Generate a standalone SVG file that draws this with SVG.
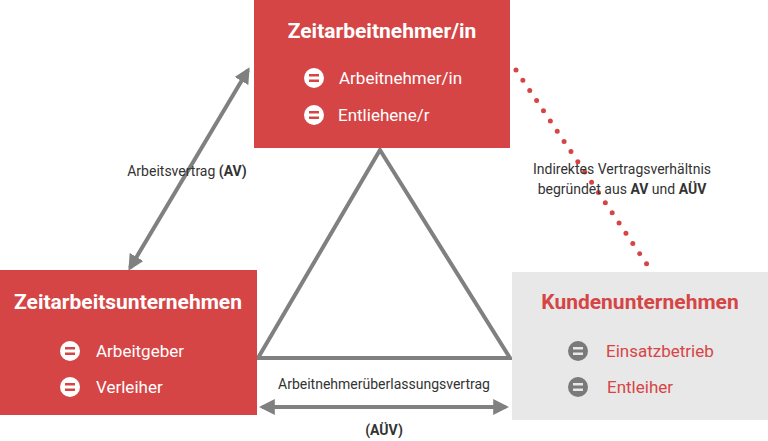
<svg xmlns="http://www.w3.org/2000/svg" width="768" height="441" viewBox="0 0 768 441">
<style>
text{font-family:Roboto,"Liberation Sans",sans-serif}
.t{font-size:21px;font-weight:bold;text-anchor:middle}
.i{font-size:17px}
.l{font-size:14px;fill:#333;text-anchor:middle}
.c{stroke:#808080;stroke-width:4;fill:none}
</style>
<defs>
<marker id="a" viewBox="0 0 10 10" refX="8" refY="5" markerWidth="4" markerHeight="4" orient="auto-start-reverse"><path d="M0,0L10,5L0,10z" fill="#808080"/></marker>
<g id="eqw"><circle r="10" fill="#fff"/><rect x="-5" y="-4" width="10" height="2.5" fill="#d64545"/><rect x="-5" y="1.5" width="10" height="2.5" fill="#d64545"/></g>
<g id="eqg"><circle r="10" fill="#7a7a7a"/><rect x="-5" y="-4" width="10" height="2.5" fill="#e8e8e8"/><rect x="-5" y="1.5" width="10" height="2.5" fill="#e8e8e8"/></g>
</defs>
<g id="connectors">
<path class="c" d="M380,150L258,358H510Z" stroke-linejoin="miter"/>
<line class="c" x1="248" y1="70" x2="130" y2="268" marker-start="url(#a)" marker-end="url(#a)"/>
<line class="c" x1="262" y1="407" x2="506" y2="407" marker-start="url(#a)" marker-end="url(#a)"/>
<line x1="516" y1="70" x2="648" y2="266" stroke="#d64545" stroke-width="5" stroke-linecap="round" stroke-dasharray="0 12.3"/>
<text class="l" x="187" y="176">Arbeitsvertrag <tspan font-weight="bold">(AV)</tspan></text>
<text class="l" x="622" y="174">Indirektes Vertragsverhältnis</text>
<text class="l" x="622" y="194">begründet aus <tspan font-weight="bold">AV</tspan> und <tspan font-weight="bold">AÜV</tspan></text>
<text class="l" x="384" y="389">Arbeitnehmerüberlassungsvertrag</text>
<text class="l" x="384" y="435" font-weight="bold">(AÜV)</text>
</g>
<g id="zeitarbeitnehmer">
<rect x="254" y="0" width="256" height="148" fill="#d64545"/>
<text class="t" x="382" y="38" fill="#fff">Zeitarbeitnehmer/in</text>
<use href="#eqw" x="314" y="78"/><text class="i" x="339" y="84" fill="#fff">Arbeitnehmer/in</text>
<use href="#eqw" x="314" y="115"/><text class="i" x="338" y="121" fill="#fff">Entliehene/r</text>
</g>
<g id="zeitarbeitsunternehmen">
<rect x="0" y="270" width="257" height="145" fill="#d64545"/>
<text class="t" x="128" y="309" fill="#fff">Zeitarbeitsunternehmen</text>
<use href="#eqw" x="70" y="351"/><text class="i" x="96" y="357" fill="#fff">Arbeitgeber</text>
<use href="#eqw" x="70" y="387"/><text class="i" x="96" y="393" fill="#fff">Verleiher</text>
</g>
<g id="kundenunternehmen">
<rect x="512" y="272" width="256" height="148" fill="#e8e8e8"/>
<text class="t" x="640" y="309" fill="#d64545">Kundenunternehmen</text>
<use href="#eqg" x="578" y="351"/><text class="i" x="606" y="357" fill="#d64545">Einsatzbetrieb</text>
<use href="#eqg" x="578" y="387"/><text class="i" x="607" y="393" fill="#d64545">Entleiher</text>
</g>
</svg>
